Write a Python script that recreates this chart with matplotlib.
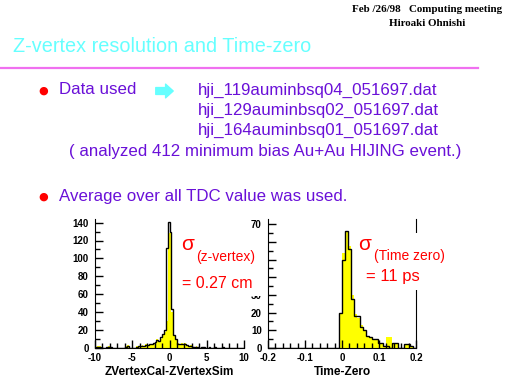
import numpy as np
import matplotlib
matplotlib.use("Agg")
import matplotlib.pyplot as plt
from matplotlib.patches import Rectangle
from matplotlib.ticker import MultipleLocator

plt.rcParams["axes.unicode_minus"] = False

# ---- data ----
header_lines = ["Feb /26/98   Computing meeting", "Hiroaki Ohnishi"]
title = "Z-vertex resolution and Time-zero"
data_files = [
    "hji_119auminbsq04_051697.dat",
    "hji_129auminbsq02_051697.dat",
    "hji_164auminbsq01_051697.dat",
]
note = "( analyzed 412 minimum bias Au+Au HIJING event.)"
bullet2 = "Average over all TDC value was used."

# z-vertex difference histogram, 80 bins from -10 to 10
zv_fill = [0, 2, 2, 1, 0, 0, 1, 2, 1, 0,
           0, 0, 0, 0, 0, 0, 2, 3, 0, 0,
           0, 0, 2, 2, 2, 3, 2, 4, 3, 5,
           4, 6, 6, 10, 8, 10, 15, 18, 30, 128,
           130, 40, 14, 10, 6, 5, 6, 4, 6, 3,
           2, 3, 1, 1, 2, 1, 0, 1, 1, 0,
           0, 1, 0, 0, 1, 0, 0, 0, 1, 0,
           0, 0, 0, 0, 0, 0, 0, 0, 0, 0]
zv_line = [1, 1, 1, 0, 0, 0, 1, 1, 1, 0,
           0, 0, 0, 0, 0, 0, 1, 2, 0, 0,
           0, 0, 1, 2, 2, 2, 2, 3, 3, 4,
           4, 6, 7, 9, 8, 12, 16, 20, 112, 141,
           130, 44, 15, 10, 5, 5, 5, 4, 5, 3,
           2, 2, 1, 1, 1, 1, 0, 1, 1, 0,
           0, 1, 0, 0, 1, 0, 0, 0, 1, 0,
           0, 0, 0, 0, 0, 0, 0, 0, 0, 0]

# time-zero histogram, 50 bins from -0.2 to 0.2
t0_fill = [0] * 24 + [20, 54, 66, 58, 30, 19, 17, 13, 10, 7,
                      6, 5, 5, 3, 3, 1, 6, 6, 3, 3,
                      0, 0, 2, 2, 1, 0]
t0_line = [0] * 24 + [20, 50, 66, 56, 28, 18, 18, 12, 10, 7,
                      6, 5, 5, 3, 3, 1, 1, 0, 3, 3,
                      0, 0, 2, 2, 1, 0]

zv_edges = np.linspace(-10, 10, len(zv_fill) + 1)
t0_edges = np.linspace(-0.2, 0.2, len(t0_fill) + 1)

W, H = 512, 384
SANS = "Liberation Sans"
PURPLE = "#6a10d8"
CYAN = "#66ffff"
RED = "#ff0000"


def fx(x):
    return x / W


def fy(y):
    return 1 - y / H


def style_axes(ax, xmaj, xmin, ymaj, ymin):
    ax.xaxis.set_major_locator(MultipleLocator(xmaj))
    ax.xaxis.set_minor_locator(MultipleLocator(xmin))
    ax.yaxis.set_major_locator(MultipleLocator(ymaj))
    ax.yaxis.set_minor_locator(MultipleLocator(ymin))
    ax.tick_params(which="both", direction="in", width=1,
                   labelsize=7, top=False, right=False)
    ax.tick_params(axis="x", pad=3.5)
    ax.tick_params(axis="y", pad=4.5)
    ax.tick_params(which="major", length=6)
    ax.tick_params(which="minor", length=3.5)
    for lab in ax.get_xticklabels() + ax.get_yticklabels():
        lab.set_fontweight("bold")
        lab.set_family(SANS)
    ax.spines["top"].set_visible(False)
    ax.set_facecolor("none")


def text(x, y, s, size, color, ha="left", **kw):
    fig.text(fx(x), fy(y), s, ha=ha, va="center", fontsize=size,
             color=color, zorder=6, **kw)


fig = plt.figure(figsize=(W / 100, H / 100), dpi=100)
fig.patch.set_facecolor("white")

# header
text(427, 10, header_lines[0], 7.9, "black", ha="center",
     family="Liberation Serif", weight="bold")
text(427, 24, header_lines[1], 7.9, "black", ha="center",
     family="Liberation Serif", weight="bold")

# title and rule
text(13, 46, title, 14.3, CYAN, family=SANS)
fig.add_artist(plt.Line2D([0, fx(478)], [fy(68), fy(68)], color="#f070f0",
                          lw=1.6, transform=fig.transFigure))

# bullets
for yb in (91, 197):
    text(43, yb, "\u25cf", 8, RED, ha="center", family="DejaVu Sans")

text(59, 90, "Data used", 12.2, PURPLE, family=SANS)
ann_ax = fig.add_axes([0, 0, 1, 1])
ann_ax.axis("off")
ann_ax.annotate("", xy=(176, H - 91), xytext=(153, H - 91),
                xycoords="figure pixels", textcoords="figure pixels",
                arrowprops=dict(arrowstyle="simple,head_width=0.9,head_length=0.5,tail_width=0.45",
                                color=CYAN, mutation_scale=11))
for i, name in enumerate(data_files):
    text(198, 90 + 20.3 * i, name, 12.2, PURPLE, family=SANS)
text(69, 151, note, 12.2, PURPLE, family=SANS)
text(59, 196, bullet2, 12.2, PURPLE, family=SANS)

# left histogram: z-vertex
ax1 = fig.add_axes([fx(95), fy(348), (244 - 95) / W, (348 - 219) / H])
ax1.stairs(zv_fill, zv_edges, fill=True, color="#ffff00")
ax1.stairs(zv_line, zv_edges, color="black", lw=1)
ax1.set_xlim(-10, 10)
ax1.set_ylim(0, 144)
style_axes(ax1, 5, 1, 20, 10)
ax1.spines["right"].set_visible(False)
ax1.set_xlabel("ZVertexCal-ZVertexSim", family=SANS, weight="bold",
               fontsize=8.5, labelpad=2)

# right histogram: time zero
ax2 = fig.add_axes([fx(268), fy(348), (416 - 268) / W, (348 - 219) / H])
ax2.stairs(t0_fill, t0_edges, fill=True, color="#ffff00")
ax2.stairs(t0_line, t0_edges, color="black", lw=1)
ax2.set_xlim(-0.2, 0.2)
ax2.set_ylim(0, 73)
style_axes(ax2, 0.1, 0.02, 10, 5)
ax2.xaxis.set_major_formatter(plt.FuncFormatter(lambda v, p: "0" if abs(v) < 1e-9 else f"{v:g}"))
ax2.set_xlabel("Time-Zero", family=SANS, weight="bold", fontsize=8.6,
               labelpad=2)

# white backgrounds of the pasted sigma labels (they hide parts of the plots)
for x0, y0, x1, y1 in ((179, 235, 261, 296), (356, 233, 452, 290)):
    fig.add_artist(Rectangle((fx(x0), fy(y1)), (x1 - x0) / W, (y1 - y0) / H,
                             transform=fig.transFigure, facecolor="white",
                             edgecolor="none", zorder=5))

# sigma annotations
text(181, 245, "\u03c3", 15, RED, family=SANS)
text(196, 257, "(z-vertex)", 10, RED, family=SANS)
text(182, 283, "= 0.27 cm", 11.5, RED, family=SANS)
text(358, 244, "\u03c3", 15, RED, family=SANS)
text(374, 256, "(Time zero)", 10, RED, family=SANS)
text(366, 276, "= 11 ps", 12, RED, family=SANS)

fig.savefig("out.png", dpi=100)
